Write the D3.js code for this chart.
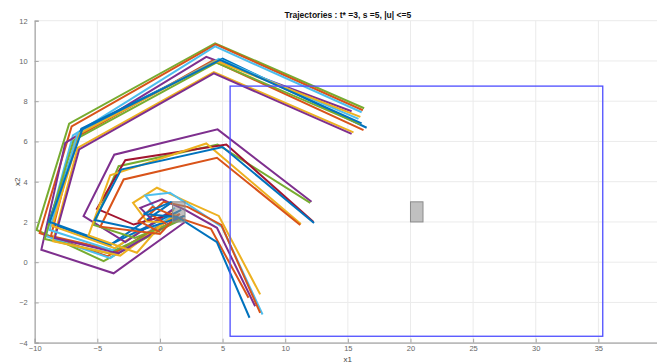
<!DOCTYPE html>
<html>
<head>
<meta charset="utf-8">
<script src="https://cdn.jsdelivr.net/npm/d3@7"></script>
<style>
  html, body { margin: 0; padding: 0; background: #fff; }
  svg { display: block; font-family: "Liberation Sans", Arial, Helvetica, sans-serif; }
</style>
</head>
<body>
<svg id="chart" width="657" height="363"></svg>
<script>
// ---------- data ----------
const chartTitle = "Trajectories : t* =3, s =5, |u| <=5";
const xLabel = "x1";
const yLabel = "x2";
const xTicks = [-10, -5, 0, 5, 10, 15, 20, 25, 30, 35, 40];
const yTicks = [-4, -2, 0, 2, 4, 6, 8, 10, 12];
const xDomain = [-10, 40];
const yDomain = [-4, 12];

// safe region (blue rectangle) : [x1min, x1max, x2min, x2max]
const safeRegion = [5.6, 35.35, -3.68, 8.75];
// gray boxes : [x1min, x1max, x2min, x2max]
const initialBox = [1, 2, 2, 3];
const targetBox = [20, 21, 2, 3];

// trajectories (outer loop)
const trajA1 = [[1.8,2.2],[-4.5,0.05],[-9.85,1.6],[-7.25,6.88],[4.4,10.88],[16.3,7.65]];
const trajA2 = [[1.9,2.3],[-4.2,0.3],[-9.6,1.45],[-7.05,6.75],[4.45,10.82],[16.2,7.55]];
const trajA3 = [[1.4,2.5],[-3.96,0.2],[-9.1,1.3],[-6.95,6.3],[4.4,10.72],[16.1,7.45]];
const trajA4 = [[2.0,2.0],[-3.7,-0.55],[-9.47,0.62],[-7.56,5.93],[3.7,10.2],[15.3,7.5]];
const trajA5 = [[1.0,3.0],[-3.97,0.85],[-8.9,1.96],[-6.28,6.63],[5.0,10.12],[16.5,6.68]];
const trajA6 = [[1.6,2.4],[-3.4,0.55],[-8.7,1.3],[-6.7,6.2],[4.2,10.02],[16.25,6.56]];
const trajA7 = [[1.7,2.1],[-4.1,0.45],[-9.2,1.15],[-6.9,6.05],[4.5,9.92],[16.0,6.85]];
const trajA8 = [[1.3,2.4],[-3.17,0.33],[-8.54,1.04],[-6.57,5.68],[4.3,9.45],[15.45,6.45]];
const trajA9 = [[1.5,2.2],[-3.3,0.45],[-8.4,1.2],[-6.45,5.6],[4.3,9.38],[15.3,6.38]];
const trajA10 = [[1.2,2.7],[-3.8,0.6],[-8.8,1.6],[-6.6,6.35],[4.7,10.1],[15.85,7.12]];
const trajA11 = [[1.1,2.6],[-3.6,0.7],[-8.6,1.8],[-6.4,6.4],[4.5,10.0],[16.0,7.22]];
const trajA12 = [[1.7,2.6],[-3.9,0.9],[-8.8,2.0],[-6.2,6.6],[4.8,10.05],[16.1,6.9]];
// trajectories (middle loop)
const trajB1 = [[1.0,2.6],[-2.77,1.0],[-6.1,2.29],[-3.65,5.34],[4.6,6.6],[12.1,3.0]];
const trajB2 = [[1.6,2.1],[-2.0,1.2],[-5.3,1.85],[-3.3,4.77],[4.6,5.85],[12.0,2.95]];
const trajB3 = [[1.0,2.4],[-2.1,1.87],[-5.03,2.65],[-2.77,5.07],[5.3,5.85],[12.26,2.0]];
const trajB4 = [[0.3,2.0],[-1.84,0.47],[-5.7,1.33],[-3.97,4.32],[3.7,5.9],[11.25,1.9]];
const trajB5 = [[1.5,2.4],[0.0,1.4],[-4.76,1.76],[-2.9,4.11],[4.55,5.19],[11.2,1.85]];
const trajB6 = [[2.0,2.3],[-1.5,1.6],[-5.2,2.1],[-3.1,4.6],[5.0,5.72],[12.3,1.95]];
// trajectories (inner loop)
const trajC1 = [[0.3,2.0],[-1.04,2.02],[-2.15,2.95],[-0.24,3.7],[2.0,3.05],[4.7,2.3],[8.0,-1.6]];
const trajC2 = [[-0.3,2.6],[-1.17,3.31],[0.8,3.45],[2.3,2.85],[4.95,1.75],[8.19,-2.6]];
const trajC3 = [[-0.6,2.1],[-1.57,2.7],[0.16,3.12],[2.0,2.6],[4.55,1.71],[7.6,-2.19]];
const trajC4 = [[0.0,1.5],[-1.7,2.05],[-0.6,2.75],[1.5,2.2],[4.07,1.66],[7.07,-1.77]];
const trajC5 = [[0.5,1.9],[-0.8,2.4],[0.3,3.0],[2.2,2.75],[4.9,1.85],[8.0,-2.52]];
const trajC6 = [[0.9,3.0],[-1.3,2.4],[1.4,2.25],[4.55,0.99],[7.15,-2.76]];

const trajectories = [trajA1, trajA2, trajA3, trajA4, trajA5, trajA6, trajA7, trajA8, trajA9, trajA10, trajA11, trajA12,
                      trajB1, trajB2, trajB3, trajB4, trajB5, trajB6,
                      trajC1, trajC2, trajC3, trajC4, trajC5, trajC6];
const trajColorNames = ["green","orange","lightblue","purple","blue","orange","green","yellow","purple","lightblue","yellow","blue",
                        "purple","green","darkred","yellow","orange","blue",
                        "yellow","lightblue","purple","orange","orange","blue"];

// ---------- styles ----------
const palette = {
  blue: "#0072BD", orange: "#D95319", yellow: "#EDB120", purple: "#7E2F8E",
  green: "#77AC30", lightblue: "#4DBEEE", darkred: "#A2142F"
};

const svg = d3.select("#chart");
const x = d3.scaleLinear().domain(xDomain).range([34.7, 661]);
const y = d3.scaleLinear().domain(yDomain).range([342.7, 20.7]);

// grid
const grid = svg.append("g");
grid.selectAll(".gx").data(xTicks).join("line")
  .attr("x1", d => x(d)).attr("x2", d => x(d))
  .attr("y1", y(yDomain[0])).attr("y2", y(yDomain[1]))
  .attr("stroke", "#ebebeb").attr("stroke-width", 1);
grid.selectAll(".gy").data(yTicks).join("line")
  .attr("x1", x(xDomain[0])).attr("x2", x(xDomain[1]))
  .attr("y1", d => y(d)).attr("y2", d => y(d))
  .attr("stroke", "#ebebeb").attr("stroke-width", 1);

// trajectories
const line = d3.line().x(d => x(d[0])).y(d => y(d[1]));
svg.append("g").selectAll("path").data(trajectories).join("path")
  .attr("d", line)
  .attr("fill", "none")
  .attr("stroke", (d, i) => palette[trajColorNames[i]])
  .attr("stroke-width", 2)
  .attr("stroke-linejoin", "miter");

// safe region rectangle
svg.append("rect")
  .attr("x", x(safeRegion[0])).attr("y", y(safeRegion[3]))
  .attr("width", x(safeRegion[1]) - x(safeRegion[0]))
  .attr("height", y(safeRegion[2]) - y(safeRegion[3]))
  .attr("fill", "none").attr("stroke", "#4d4dff").attr("stroke-width", 1.3);

// gray boxes
[initialBox, targetBox].forEach(b => {
  svg.append("rect")
    .attr("x", x(b[0])).attr("y", y(b[3]))
    .attr("width", x(b[1]) - x(b[0]))
    .attr("height", y(b[2]) - y(b[3]))
    .attr("fill", "#8c8c8c").attr("fill-opacity", 0.55)
    .attr("stroke", "#8c8c8c").attr("stroke-width", 1);
});

// axes
const xAxis = d3.axisBottom(x).tickValues(xTicks).tickSize(-4).tickPadding(3).tickFormat(d3.format("d"));
const yAxis = d3.axisLeft(y).tickValues(yTicks).tickSize(-4).tickPadding(7).tickFormat(d3.format("d"));
const gx = svg.append("g").attr("transform", `translate(0,${y(yDomain[0])})`).call(xAxis);
const gy = svg.append("g").attr("transform", `translate(${x(xDomain[0])},0)`).call(yAxis);
[gx, gy].forEach(g => {
  g.select(".domain").attr("stroke", "#a6a6a6").attr("stroke-width", 1.2);
  g.selectAll(".tick line").attr("stroke", "#a6a6a6");
  g.selectAll(".tick text").attr("fill", "#666").attr("font-size", 7.5)
    .attr("font-family", "Liberation Sans, Arial, sans-serif");
});

// title & labels
svg.append("text").attr("x", (x(xDomain[0]) + x(xDomain[1])) / 2).attr("y", 18)
  .attr("text-anchor", "middle").attr("font-size", 8.5).attr("font-weight", "bold").attr("fill", "#111")
  .text(chartTitle);
svg.append("text").attr("x", (x(xDomain[0]) + x(xDomain[1])) / 2).attr("y", 362)
  .attr("text-anchor", "middle").attr("font-size", 8).attr("fill", "#444")
  .text(xLabel);
svg.append("text")
  .attr("transform", `translate(20,${(y(yDomain[0]) + y(yDomain[1])) / 2}) rotate(-90)`)
  .attr("text-anchor", "middle").attr("font-size", 8).attr("fill", "#444")
  .text(yLabel);
</script>
</body>
</html>
